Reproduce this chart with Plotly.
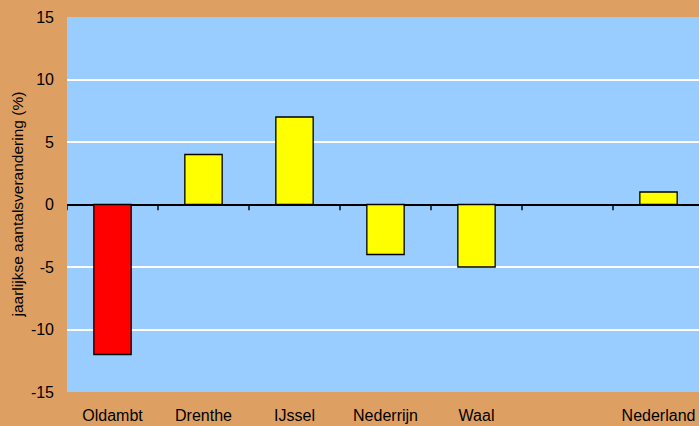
import plotly.graph_objects as go

# Annual population change per region (%)
categories = ["Oldambt", "Drenthe", "IJssel", "Nederrijn", "Waal", "", "Nederland"]
values = [-12, 4, 7, -4, -5, None, 1]
bar_colors = ["#FF0000", "#FFFF00", "#FFFF00", "#FFFF00", "#FFFF00", "#FFFF00", "#FFFF00"]
y_ticks = [-15, -10, -5, 0, 5, 10, 15]

positions = list(range(len(categories)))
boundaries = [p - 0.5 for p in positions] + [positions[-1] + 0.5]
x_range = [-0.5, len(categories) - 0.555]
y_range = [-15, 15]

font = dict(family="Liberation Sans, Arial, sans-serif", size=16, color="#000000")

fig = go.Figure()
fig.add_trace(go.Bar(
    x=positions,
    y=values,
    width=0.41,
    marker=dict(color=bar_colors, line=dict(color="#000000", width=1.3)),
    hoverinfo="x+y",
))

# short tick marks hanging below the zero line at each category boundary
tick_len = 0.45
fig.add_trace(go.Scatter(
    x=boundaries,
    y=[0] * len(boundaries),
    mode="markers",
    marker=dict(size=1, color="rgba(0,0,0,0)"),
    error_y=dict(
        type="data", symmetric=False,
        array=[0] * len(boundaries),
        arrayminus=[tick_len] * len(boundaries),
        color="#000000", thickness=1.4, width=0,
    ),
    hoverinfo="skip", showlegend=False, cliponaxis=False,
))

fig.update_layout(
    width=699,
    height=426,
    margin=dict(l=67, r=0, t=17, b=34),
    paper_bgcolor="#DEA062",
    plot_bgcolor="#99CCFF",
    showlegend=False,
    font=font,
    xaxis=dict(
        range=x_range,
        tickvals=positions,
        ticktext=categories,
        showgrid=False,
        zeroline=False,
        showline=False,
        ticks="",
        ticklabelstandoff=12,
        tickfont=font,
    ),
    yaxis=dict(
        range=y_range,
        tickvals=y_ticks,
        ticktext=[str(v) for v in y_ticks],
        showgrid=True,
        gridcolor="#FFFFFF",
        gridwidth=1.5,
        zeroline=True,
        zerolinecolor="#000000",
        zerolinewidth=1.5,
        showline=False,
        ticks="",
        ticklabelstandoff=12,
        tickfont=font,
    ),
    annotations=[dict(
        text="jaarlijkse aantalsverandering (%)",
        textangle=-90,
        xref="paper", yref="paper",
        x=-50 / 632, y=0.5,
        xanchor="center", yanchor="middle",
        showarrow=False,
        font=dict(family="Liberation Sans, Arial, sans-serif", size=15.5, color="#000000"),
    )],
)

fig.write_html("out.html")
